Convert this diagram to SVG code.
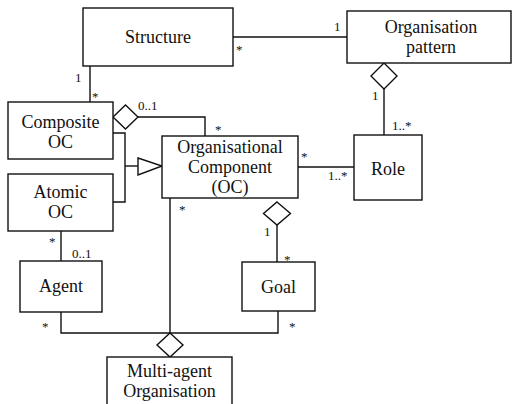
<svg xmlns="http://www.w3.org/2000/svg" width="512" height="404" viewBox="0 0 512 404">
  <style>
    .box { fill: #fff; stroke: #111; stroke-width: 1.4; }
    .line { fill: none; stroke: #111; stroke-width: 1.4; }
    .agg { fill: #fff; stroke: #111; stroke-width: 1.4; }
    text { font-family: 'Liberation Serif', 'DejaVu Serif', serif; fill: #111; }
    .name { font-size: 18px; text-anchor: middle; }
    .mult { font-size: 13px; }
  </style>
  <rect width="512" height="404" fill="#fff"/>

  <!-- associations, aggregations and generalisation -->
  <g id="connectors" font-family="Liberation Serif, serif">
    <!-- Structure - Organisation pattern -->
    <path class="line" d="M233 37 H347"/>
    <text class="mult" x="236" y="54">*</text>
    <text class="mult" x="334" y="31">1</text>

    <!-- Organisation pattern <>- Role -->
    <path class="line" d="M384 89 V135"/>
    <polygon class="agg" points="384,63 397,76 384,89 371,76"/>
    <text class="mult" x="372" y="100">1</text>
    <text class="mult" x="392" y="130">1..*</text>

    <!-- Structure - Composite OC -->
    <path class="line" d="M90 66 V102"/>
    <text class="mult" x="75" y="82">1</text>
    <text class="mult" x="92" y="101">*</text>

    <!-- Composite OC <>- Organisational Component -->
    <path class="line" d="M138 117 H205 V136"/>
    <polygon class="agg" points="113,117 125.5,105 138,117 125.5,129"/>
    <text class="mult" x="138" y="110">0..1</text>
    <text class="mult" x="215" y="134">*</text>

    <!-- Composite / Atomic generalise Organisational Component -->
    <path class="line" d="M113 133 H125 V202 H113"/>
    <path class="line" d="M125 166 H138"/>
    <polygon class="agg" points="138,158 162,166 138,175"/>

    <!-- Organisational Component - Role -->
    <path class="line" d="M298 167 H354"/>
    <text class="mult" x="301" y="161">*</text>
    <text class="mult" x="328" y="180">1..*</text>

    <!-- Organisational Component <>- Goal -->
    <path class="line" d="M277 225 V262"/>
    <polygon class="agg" points="277,202 290.5,213.5 277,225 263.5,213.5"/>
    <text class="mult" x="264" y="236">1</text>
    <text class="mult" x="284" y="264">*</text>

    <!-- Atomic OC - Agent -->
    <path class="line" d="M61 231 V261"/>
    <text class="mult" x="49" y="246">*</text>
    <text class="mult" x="72" y="258">0..1</text>

    <!-- Agent, Organisational Component, Goal <>- Multi-agent Organisation -->
    <path class="line" d="M61 312 V333 H278 V311"/>
    <path class="line" d="M170 198 V333"/>
    <polygon class="agg" points="170,333 183,345 170,357 157,345"/>
    <text class="mult" x="179" y="214">*</text>
    <text class="mult" x="42" y="331">*</text>
    <text class="mult" x="289" y="331">*</text>
  </g>

  <g id="structure">
    <rect class="box" x="83" y="8" width="150" height="58"/>
    <text class="name" x="158" y="43">Structure</text>
  </g>

  <g id="organisation-pattern">
    <rect class="box" x="347" y="11" width="164" height="52"/>
    <text class="name" x="431" y="33">Organisation</text>
    <text class="name" x="431" y="53">pattern</text>
  </g>

  <g id="composite-oc">
    <rect class="box" x="8" y="102" width="105" height="57"/>
    <text class="name" x="60.5" y="128">Composite</text>
    <text class="name" x="60.5" y="148">OC</text>
  </g>

  <g id="atomic-oc">
    <rect class="box" x="8" y="174" width="105" height="57"/>
    <text class="name" x="60.5" y="198">Atomic</text>
    <text class="name" x="60.5" y="218">OC</text>
  </g>

  <g id="organisational-component">
    <rect class="box" x="162" y="136" width="136" height="62"/>
    <text class="name" x="230" y="153">Organisational</text>
    <text class="name" x="230" y="173">Component</text>
    <text class="name" x="230" y="193">(OC)</text>
  </g>

  <g id="role">
    <rect class="box" x="354" y="135" width="68" height="65"/>
    <text class="name" x="388" y="175">Role</text>
  </g>

  <g id="agent">
    <rect class="box" x="20" y="261" width="82" height="51"/>
    <text class="name" x="61" y="292">Agent</text>
  </g>

  <g id="goal">
    <rect class="box" x="242" y="262" width="73" height="49"/>
    <text class="name" x="278.5" y="293">Goal</text>
  </g>

  <g id="multi-agent-organisation">
    <rect class="box" x="107" y="357" width="125" height="60"/>
    <text class="name" x="169.5" y="377">Multi-agent</text>
    <text class="name" x="169.5" y="397">Organisation</text>
  </g>
</svg>
